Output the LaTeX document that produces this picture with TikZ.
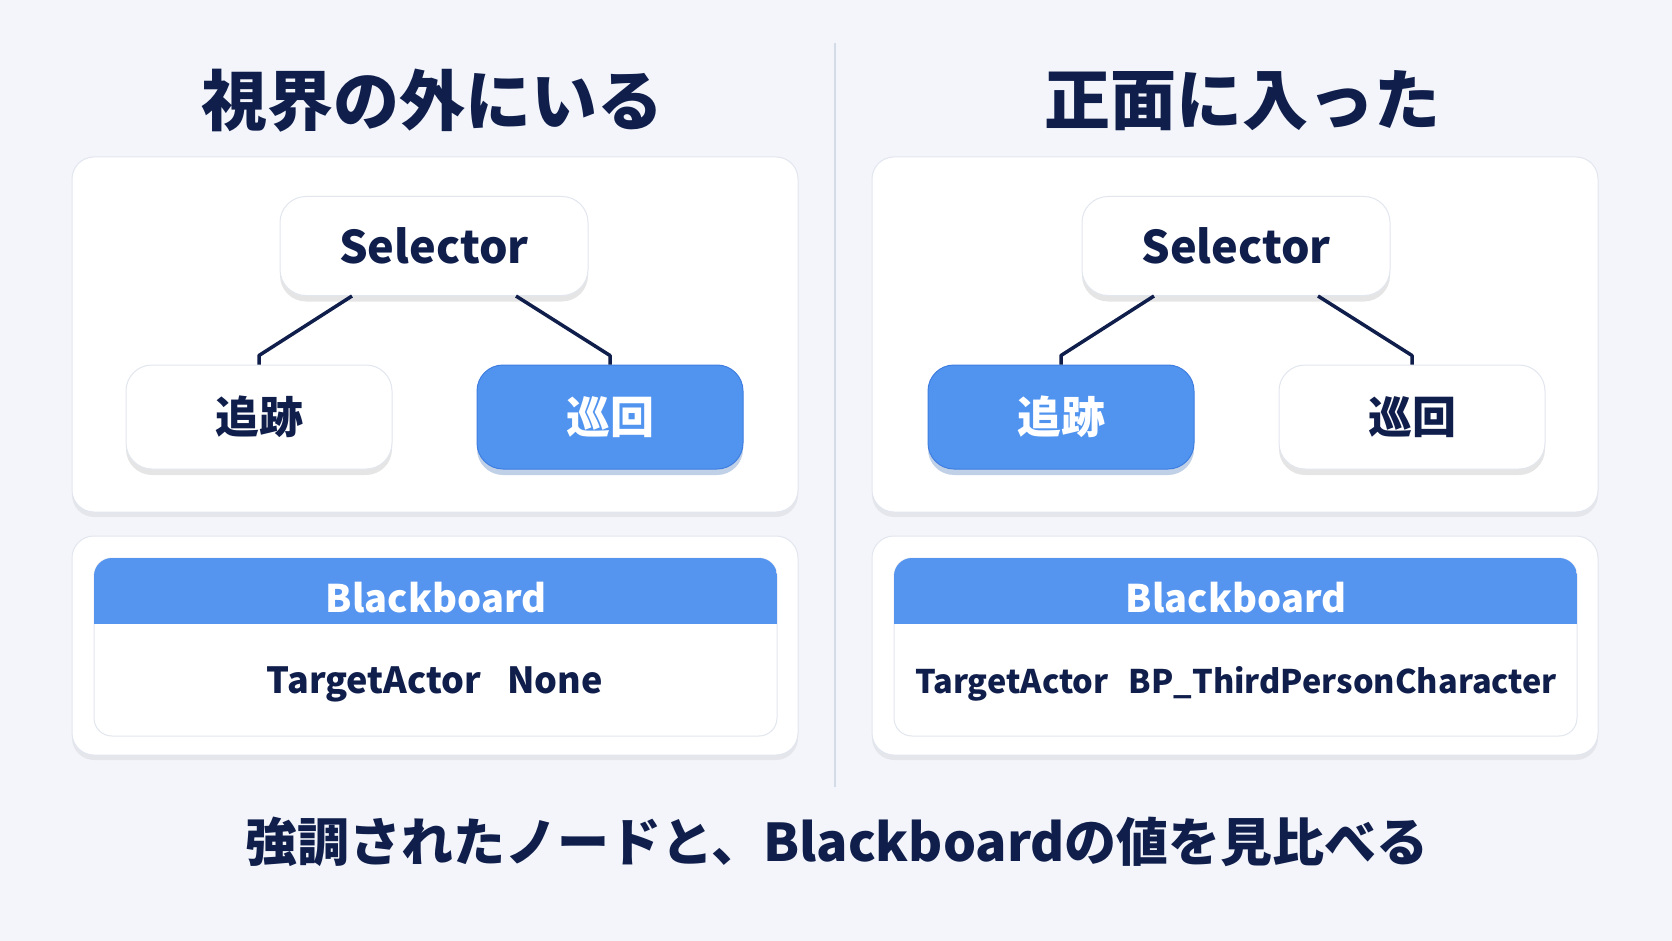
\documentclass[tikz,border=0pt]{standalone}
\usepackage{fontspec}
\setmainfont{Noto Sans CJK JP}
\usetikzlibrary{shadows}

\definecolor{ink}{HTML}{0F1E4B}
\definecolor{bg}{HTML}{F3F5FA}
\definecolor{hilite}{HTML}{5094F0}
\definecolor{hiliteline}{HTML}{3F7EE0}
\definecolor{hdr}{HTML}{5595F0}
\definecolor{panelline}{HTML}{E2E6EE}
\definecolor{divider}{HTML}{D3DBE7}

\begin{document}
\begin{tikzpicture}[x=1pt,y=-1pt,line width=1pt,
  panel/.style={draw=panelline,fill=white,rounded corners=22pt,
    drop shadow={shadow xshift=0pt,shadow yshift=-5pt,opacity=0.06,fill=black}},
  tree/.style={draw=panelline,fill=white,rounded corners=26pt,text=ink,
    font=\bfseries\fontsize{44}{44}\selectfont,
    drop shadow={shadow xshift=0pt,shadow yshift=-6pt,opacity=0.10,fill=black}},
  active/.style={tree,draw=hiliteline,fill=hilite,text=white,
    drop shadow={shadow xshift=0pt,shadow yshift=-6pt,opacity=0.25,fill=hilite}},
  link/.style={draw=ink,line width=3.5pt,line join=round},
  title/.style={text=ink,font=\bfseries\fontsize{66}{66}\selectfont},
  hdrtext/.style={text=white,font=\bfseries\fontsize{38}{38}\selectfont},
  valtext/.style={text=ink,font=\bfseries\fontsize{36}{36}\selectfont}]
  \def\G{800}    % shift of the right half
  \def\SW{308}   % Selector width
  \def\SH{99}    % Selector height
  \def\CW{266}   % child width
  \def\CH{104}   % child height

  % background and bounding box
  \fill[bg] (0,0) rectangle (1672,941);
  \useasboundingbox (0,0) rectangle (1672,941);
  \draw[divider,line width=2pt] (835,43) -- (835,787);

  % ================= left: out of sight =================
  \begin{scope}[shift={(0,0)}]
    \node[title] (titleL) at (432,101) {視界の外にいる};
    \draw[panel] (72,157) rectangle (798,512);
    \node[tree,minimum width=\SW,minimum height=\SH,font=\bfseries\fontsize{45}{45}\selectfont] (selL) at (434,246) {Selector};
    \node[tree,minimum width=\CW,minimum height=\CH] (chaseL) at (259,417) {追跡};
    \node[active,minimum width=\CW,minimum height=\CH] (patrolL) at (610,417) {巡回};
    \draw[link] ([xshift=-82pt]selL.south) -- ([yshift=9pt]chaseL.north) -- (chaseL.north);
    \draw[link] ([xshift=82pt]selL.south) -- ([yshift=9pt]patrolL.north) -- (patrolL.north);
    % Blackboard
    \draw[panel] (72,536) rectangle (798,755);
    \draw[draw=panelline,fill=white,rounded corners=18pt] (94,558) rectangle (777,736);
    \begin{scope}
      \clip[rounded corners=18pt] (94,558) rectangle (777,736);
      \fill[hdr] (94,558) rectangle (777,624);
    \end{scope}
    \node[hdrtext] (bbL) at (436,598) {Blackboard};
    \node[valtext] (valL) at (435,684) {TargetActor\hspace{26pt}None};
  \end{scope}

  % ================= right: came into view =================
  \begin{scope}[shift={(\G,0)}]
    \node[title] (titleR) at (442,101) {正面に入った};
    \draw[panel] (72,157) rectangle (798,512);
    \node[tree,minimum width=\SW,minimum height=\SH,font=\bfseries\fontsize{45}{45}\selectfont] (selR) at (436,246) {Selector};
    \node[active,minimum width=\CW,minimum height=\CH] (chaseR) at (261,417) {追跡};
    \node[tree,minimum width=\CW,minimum height=\CH] (patrolR) at (612,417) {巡回};
    \draw[link] ([xshift=-82pt]selR.south) -- ([yshift=9pt]chaseR.north) -- (chaseR.north);
    \draw[link] ([xshift=82pt]selR.south) -- ([yshift=9pt]patrolR.north) -- (patrolR.north);
    % Blackboard
    \draw[panel] (72,536) rectangle (798,755);
    \draw[draw=panelline,fill=white,rounded corners=18pt] (94,558) rectangle (777,736);
    \begin{scope}
      \clip[rounded corners=18pt] (94,558) rectangle (777,736);
      \fill[hdr] (94,558) rectangle (777,624);
    \end{scope}
    \node[hdrtext] (bbR) at (436,598) {Blackboard};
    \node[valtext,font=\bfseries\fontsize{32.5}{32.5}\selectfont] (valR) at (436,684)
      {TargetActor\hspace{20pt}BP\_ThirdPersonCharacter};
  \end{scope}

  % caption
  \node[text=ink,font=\bfseries\fontsize{52}{52}\selectfont] (caption) at (837,842)
    {強調されたノードと、Blackboardの値を見比べる};
\end{tikzpicture}
\end{document}
